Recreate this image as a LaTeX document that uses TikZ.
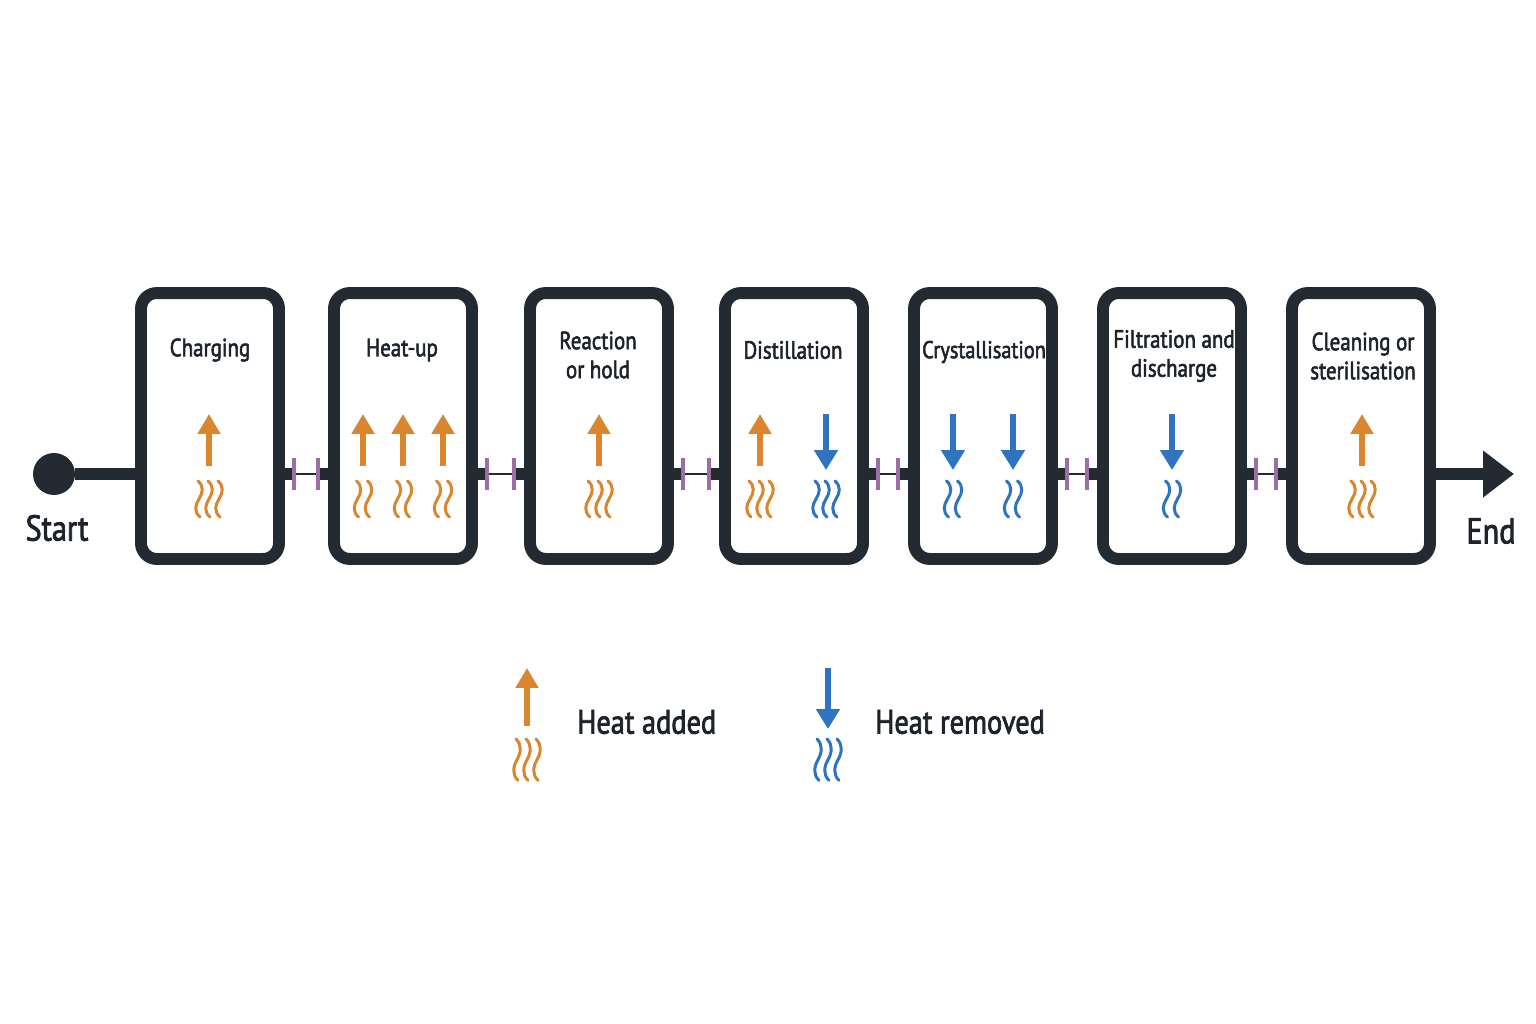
\documentclass[tikz,border=0pt]{standalone}
\usepackage{fontspec}
\setmainfont{PT Sans}[FakeStretch=0.84, FakeBold=2.2]
\usetikzlibrary{arrows.meta,positioning}
\definecolor{ink}{HTML}{242A31}
\definecolor{txt}{HTML}{1D232B}
\definecolor{heatorange}{HTML}{D9862E}
\definecolor{coolblue}{HTML}{2F74C0}
\definecolor{valvepurple}{HTML}{9B6FA6}

\tikzset{
  stage/.style={draw=ink, line width=6.8pt, rounded corners=9pt, fill=white,
    minimum width=2.76cm, minimum height=5.32cm, inner sep=0pt},
  stagetext/.style={text=txt, font=\fontsize{14.2}{16.5}\selectfont, align=center, inner sep=0pt},
  endtext/.style={text=txt, font=\fontsize{20.5}{22}\selectfont, inner sep=0pt},
  legendtext/.style={text=txt, font=\fontsize{19.2}{21}\selectfont, inner sep=0pt, anchor=west},
  mainline/.style={draw=ink, line width=6.3pt},
  thinline/.style={draw=ink, line width=1.6pt},
  valve/.style={draw=valvepurple, line width=2.3pt},
  heatin/.style={draw=heatorange, line width=2.9pt, -{Triangle[length=0.4cm, width=0.44cm]}},
  heatout/.style={draw=coolblue, line width=2.9pt, -{Triangle[length=0.4cm, width=0.46cm]}},
  fumes/.pic={\draw[line width=1.7pt, line cap=round] (-1,0) .. controls (5,5) and (4,12) .. (0,18) .. controls (-4,24) and (-5,31) .. (1,36);}
}

\begin{document}
\begin{tikzpicture}[x=0.02cm, y=-0.02cm]
\fill[white] (0,0) rectangle (1536,1024);
\useasboundingbox (0,0) rectangle (1536,1024);
% Stages
\node[stage] (charging) at (210,426) {};
\node[stage] (heatup) at (403,426) {};
\node[stage] (reaction) at (599,426) {};
\node[stage] (distil) at (794,426) {};
\node[stage] (cryst) at (983,426) {};
\node[stage] (filtr) at (1172,426) {};
\node[stage] (cleaning) at (1361,426) {};
% Stage names
\node[stagetext] (charging-t) at (210,350) {Charging};
\node[stagetext] (heatup-t) at (402,350) {Heat-up};
\node[stagetext] (reaction-t) at (598,355) {Reaction\\or hold};
\node[stagetext] (distil-t) at (793,350) {Distillation};
\node[stagetext, font=\fontsize{13.8}{16.5}\selectfont] (cryst-t) at (984,352) {Crystallisation};
\node[stagetext] (filtr-t) at (1174,356) {Filtration and\\discharge};
\node[stagetext] (cleaning-t) at (1363,356) {Cleaning or\\sterilisation};
% Start and end
\node[circle, fill=ink, minimum size=0.84cm, inner sep=0pt] (start) at (54,474) {};
\coordinate (finish) at (1514,474);
\node[endtext] (start-t) at (57,528) {Start};
\node[endtext] (end-t) at (1491,531) {End};
\draw[mainline] (start) -- (charging.west |- start);
\draw[mainline, -{Triangle[length=0.62cm, width=0.9cm]}] (cleaning.east |- start) -- (finish);
% Connections with valves
\foreach \a/\b in {charging/heatup, heatup/reaction, reaction/distil, distil/cryst, cryst/filtr, filtr/cleaning}{
  \draw[mainline] (\a.east |- start) -- ++(9,0) coordinate (\a-l);
  \draw[mainline] (\b.west |- start) -- ++(-10,0) coordinate (\a-r);
  \draw[thinline] (\a-l) -- (\a-r);
  \draw[valve] (\a-l) ++(0,-16) -- ++(0,32);
  \draw[valve] (\a-r) ++(0,-16) -- ++(0,32);
}
% Heat added
\foreach \x in {209,363,403,443,599,760,1362}
  \draw[heatin] (\x,466) -- (\x,414);
\foreach \x in {199,209,219,357.5,368.5,397.5,408.5,437.5,448.5,589,599,609,750,760,770,1352,1362,1372}
  \pic[heatorange] at (\x,481) {fumes};
% Heat removed
\foreach \x in {826,953,1013,1172}
  \draw[heatout] (\x,414) -- (\x,470);
\foreach \x in {816,826,836,947.5,958.5,1007.5,1018.5,1166.5,1177.5}
  \pic[coolblue] at (\x,481) {fumes};
% Legend
\draw[heatin] (527,726) -- (527,668);
\foreach \x in {517,527,537}
  \pic[heatorange, yscale=1.15] at (\x,739) {fumes};
\node[legendtext] (added) at (577,722) {Heat added};
\draw[heatout] (828,668) -- (828,729);
\foreach \x in {818,828,838}
  \pic[coolblue, yscale=1.15] at (\x,739) {fumes};
\node[legendtext] (removed) at (875,722) {Heat removed};
\end{tikzpicture}
\end{document}
